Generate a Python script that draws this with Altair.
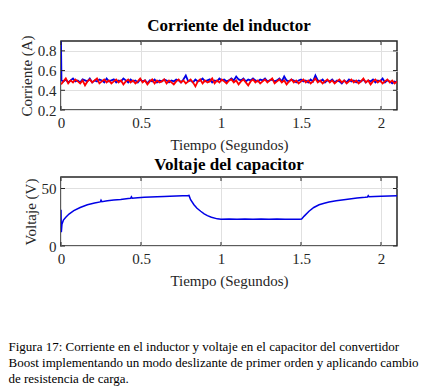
import altair as alt
import pandas as pd

# ---------------- data ----------------
t_step = 0.015
n_pts = 141
times = [round(i * t_step, 4) for i in range(n_pts)]

cur_blue = [
    0.90, 0.49, 0.51, 0.48, 0.50, 0.52, 0.49, 0.50, 0.48, 0.51,
    0.50, 0.49, 0.52, 0.48, 0.50, 0.49, 0.51, 0.50, 0.48, 0.52,
    0.49, 0.50, 0.51, 0.48, 0.50, 0.49, 0.52, 0.50, 0.48, 0.51,
    0.49, 0.50, 0.48, 0.51, 0.49, 0.50, 0.47, 0.50, 0.49, 0.51,
    0.48, 0.50, 0.49, 0.51, 0.50, 0.48, 0.50, 0.49, 0.51, 0.50,
    0.48, 0.51, 0.55, 0.49, 0.50, 0.48, 0.51, 0.49, 0.50, 0.52,
    0.49, 0.50, 0.51, 0.48, 0.50, 0.49, 0.52, 0.50, 0.51, 0.49,
    0.50, 0.52, 0.50, 0.54, 0.51, 0.50, 0.52, 0.49, 0.51, 0.50,
    0.52, 0.50, 0.49, 0.51, 0.50, 0.52, 0.49, 0.50, 0.51, 0.49,
    0.50, 0.52, 0.49, 0.54, 0.50, 0.49, 0.51, 0.50, 0.48, 0.50,
    0.51, 0.49, 0.50, 0.48, 0.51, 0.49, 0.55, 0.50, 0.49, 0.51,
    0.48, 0.50, 0.49, 0.51, 0.48, 0.50, 0.49, 0.47, 0.50, 0.48,
    0.51, 0.49, 0.50, 0.48, 0.50, 0.49, 0.51, 0.48, 0.50, 0.49,
    0.51, 0.48, 0.50, 0.49, 0.52, 0.48, 0.50, 0.49, 0.47, 0.49,
    0.48,
]
# start of blue trace: vertical spike at t = 0
blue_start_t = [0.0, 0.003]
blue_start_v = [0.90, 0.50]

cur_red = [
    0.46, 0.49, 0.52, 0.47, 0.50, 0.48, 0.51, 0.49, 0.47, 0.50,
    0.45, 0.49, 0.51, 0.48, 0.50, 0.52, 0.47, 0.49, 0.51, 0.48,
    0.50, 0.47, 0.49, 0.51, 0.48, 0.50, 0.46, 0.49, 0.51, 0.48,
    0.50, 0.47, 0.49, 0.52, 0.48, 0.50, 0.46, 0.49, 0.51, 0.47,
    0.50, 0.48, 0.49, 0.51, 0.47, 0.50, 0.48, 0.46, 0.49, 0.51,
    0.48, 0.50, 0.47, 0.49, 0.51, 0.48, 0.44, 0.49, 0.51, 0.47,
    0.50, 0.48, 0.49, 0.52, 0.47, 0.50, 0.48, 0.51, 0.49, 0.47,
    0.50, 0.51, 0.48, 0.50, 0.46, 0.49, 0.51, 0.48, 0.45, 0.49,
    0.51, 0.48, 0.50, 0.47, 0.49, 0.51, 0.48, 0.50, 0.52, 0.47,
    0.49, 0.51, 0.48, 0.50, 0.46, 0.49, 0.51, 0.48, 0.50, 0.47,
    0.49, 0.51, 0.48, 0.50, 0.47, 0.49, 0.52, 0.48, 0.50, 0.47,
    0.49, 0.51, 0.48, 0.50, 0.47, 0.49, 0.51, 0.48, 0.50, 0.47,
    0.49, 0.51, 0.48, 0.50, 0.47, 0.49, 0.52, 0.48, 0.50, 0.46,
    0.49, 0.51, 0.48, 0.50, 0.47, 0.49, 0.51, 0.48, 0.50, 0.47,
    0.49,
]

volt_t = [
    0.000, 0.002, 0.006, 0.015, 0.030, 0.050, 0.080, 0.120, 0.165, 0.210,
    0.245, 0.250, 0.255, 0.290, 0.330, 0.373, 0.420, 0.435, 0.440, 0.445,
    0.480, 0.520, 0.560, 0.600, 0.644, 0.680, 0.720, 0.760, 0.790, 0.800,
    0.810, 0.831, 0.850, 0.873, 0.895, 0.915, 0.940, 0.977, 1.000, 1.050,
    1.100, 1.150, 1.200, 1.250, 1.300, 1.350, 1.400, 1.450, 1.490, 1.504,
    1.520, 1.550, 1.580, 1.613, 1.645, 1.675, 1.720, 1.780, 1.850, 1.900,
    1.915, 1.920, 1.925, 1.960, 2.000, 2.050, 2.100,
]
volt_v = [
    31.6, 12.0, 19.0, 22.5, 25.0, 27.8, 30.7, 33.5, 35.9, 37.3,
    38.3, 39.8, 38.5, 39.3, 40.0, 40.5, 41.2, 41.4, 42.8, 41.6,
    42.0, 42.4, 42.6, 42.8, 43.1, 43.2, 43.4, 43.6, 43.8, 44.0,
    40.2, 35.9, 32.8, 30.2, 28.0, 26.4, 25.0, 23.6, 23.3, 23.4,
    23.2, 23.5, 23.3, 23.4, 23.2, 23.4, 23.3, 23.2, 23.3, 23.5,
    26.0, 30.2, 33.5, 35.9, 37.2, 38.2, 39.3, 40.5, 41.7, 42.3,
    42.6, 43.8, 42.8, 43.0, 43.3, 43.5, 43.7,
]

x_ticks = [0, 0.5, 1, 1.5, 2]
cur_ticks = [0.2, 0.4, 0.6, 0.8]
volt_ticks = [0, 50]

caption_lines = [
    "Figura 17: Corriente en el inductor y voltaje en el capacitor del convertidor",
    "Boost implementando un modo deslizante de primer orden y aplicando cambio",
    "de resistencia de carga.",
]

# ---------------- tables ----------------
df_blue = pd.DataFrame({"t": blue_start_t + times[1:], "v": blue_start_v + cur_blue[1:]})
df_red = pd.DataFrame({"t": times, "v": cur_red})
df_volt = pd.DataFrame({"t": volt_t, "v": volt_v})
df_xt = pd.DataFrame({"t": x_ticks})
df_cyt = pd.DataFrame({"v": cur_ticks})
df_vyt = pd.DataFrame({"v": volt_ticks})

W, H = 336, 69
FONT = '"Liberation Serif", "Times New Roman", Times, serif'
AX = "#262626"
BLUE = "#0000e6"
RED = "#ff0000"

x_enc = alt.X(
    "t:Q",
    scale=alt.Scale(domain=[0, 2.1], nice=False, zero=False),
    axis=alt.Axis(values=x_ticks, labelExpr="datum.value + ''", title="Tiempo (Segundos)"),
)


def y_enc(domain, ticks, title, fmt):
    return alt.Y(
        "v:Q",
        scale=alt.Scale(domain=domain, nice=False, zero=False),
        axis=alt.Axis(values=ticks, format=fmt, title=title),
    )


def tick_layers(df_y, yenc):
    top = alt.Chart(df_xt).mark_rule(color=AX, strokeWidth=1).encode(
        x=x_enc, y=alt.value(0), y2=alt.value(4))
    bot = alt.Chart(df_xt).mark_rule(color=AX, strokeWidth=1).encode(
        x=x_enc, y=alt.value(H - 4), y2=alt.value(H))
    left = alt.Chart(df_y).mark_rule(color=AX, strokeWidth=1).encode(
        y=yenc, x=alt.value(0), x2=alt.value(4))
    right = alt.Chart(df_y).mark_rule(color=AX, strokeWidth=1).encode(
        y=yenc, x=alt.value(W - 4), x2=alt.value(W))
    return [top, bot, left, right]


yc = y_enc([0.2, 0.9], cur_ticks, "Corriente (A)", ".1f")
yv = y_enc([0, 60], volt_ticks, "Voltaje (V)", "d")

p1 = alt.layer(
    alt.Chart(df_blue).mark_line(color=BLUE, strokeWidth=1.8, clip=True).encode(x=x_enc, y=yc),
    alt.Chart(df_red).mark_line(color=RED, strokeWidth=1.8, clip=True).encode(x=x_enc, y=yc),
    *tick_layers(df_cyt, yc),
).properties(
    width=W, height=H,
    title=alt.TitleParams("Corriente del inductor", font=FONT, fontSize=17,
                          fontWeight="bold", color="black", offset=0),
)

p2 = alt.layer(
    alt.Chart(df_volt).mark_line(color=BLUE, strokeWidth=1.5, clip=True).encode(x=x_enc, y=yv),
    *tick_layers(df_vyt, yv),
).properties(
    width=W, height=H,
    title=alt.TitleParams("Voltaje del capacitor", font=FONT, fontSize=17,
                          fontWeight="bold", color="black", offset=3),
)

chart = alt.vconcat(p1, p2, spacing=1).properties(
    title=alt.TitleParams(caption_lines, orient="bottom", anchor="start", frame="bounds",
                          font=FONT, fontSize=13, fontWeight="normal", color="black",
                          lineHeight=16, offset=52, dx=-10),
    padding={"left": 0, "top": 8, "right": 0, "bottom": 0},
).configure_view(
    stroke=AX, strokeWidth=1.5
).configure_axis(
    labelFont=FONT, labelFontSize=15, labelColor=AX, labelPadding=5, labelFlush=False,
    titleFont=FONT, titleFontSize=15, titleFontWeight="normal", titleColor=AX,
    ticks=False, domain=False, grid=True, gridColor="#e0e0e0", gridWidth=1,
).configure_axisX(
    titlePadding=7
).configure_axisY(
    titlePadding=3
)

chart.save("out.html", embed_options={"renderer": "svg", "actions": False})
